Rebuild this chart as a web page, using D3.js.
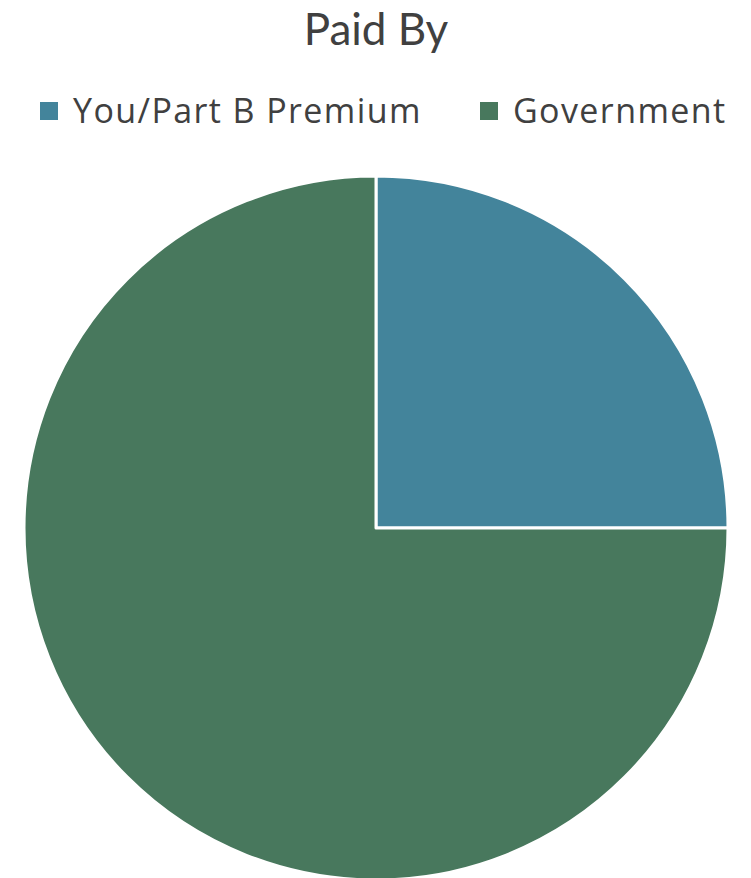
<!DOCTYPE html>
<html>
<head>
<meta charset="utf-8">
<script src="https://cdn.jsdelivr.net/npm/d3@7"></script>
<style>
  html, body { margin: 0; padding: 0; background: #fff; }
  svg { display: block; }
</style>
</head>
<body>
<svg id="chart" width="751" height="878"></svg>
<script>
// data
const categories = ["You/Part B Premium", "Government"];
const values = [25, 75];
const colors = ["#43849B", "#48785D"];

const width = 751, height = 878;
const cx = 376, cy = 528, radius = 352;

const svg = d3.select("#chart");

// title
svg.append("text")
  .attr("x", cx)
  .attr("y", 45)
  .attr("text-anchor", "middle")
  .attr("font-family", "Lato, 'Open Sans', sans-serif")
  .attr("font-size", 44)
  .attr("fill", "#404040")
  .text("Paid By");

// legend
const legendX = [40, 480];
const legend = svg.append("g").selectAll("g")
  .data(categories)
  .join("g")
    .attr("transform", (d, i) => `translate(${legendX[i]}, 0)`);

legend.append("rect")
  .attr("x", 0)
  .attr("y", 102)
  .attr("width", 18)
  .attr("height", 18)
  .attr("fill", (d, i) => colors[i]);

legend.append("text")
  .attr("x", 33)
  .attr("y", 123)
  .attr("font-family", "'Open Sans', sans-serif")
  .attr("font-size", 34)
  .attr("letter-spacing", 1.4)
  .attr("fill", "#404040")
  .text(d => d);

// pie
const pie = d3.pie().sort(null).value(d => d);
const arc = d3.arc().innerRadius(0).outerRadius(radius);

svg.append("g")
  .attr("transform", `translate(${cx}, ${cy})`)
  .selectAll("path")
  .data(pie(values))
  .join("path")
    .attr("d", arc)
    .attr("fill", (d, i) => colors[i])
    .attr("stroke", "#fff")
    .attr("stroke-width", 3)
    .attr("stroke-linejoin", "round");
</script>
</body>
</html>
